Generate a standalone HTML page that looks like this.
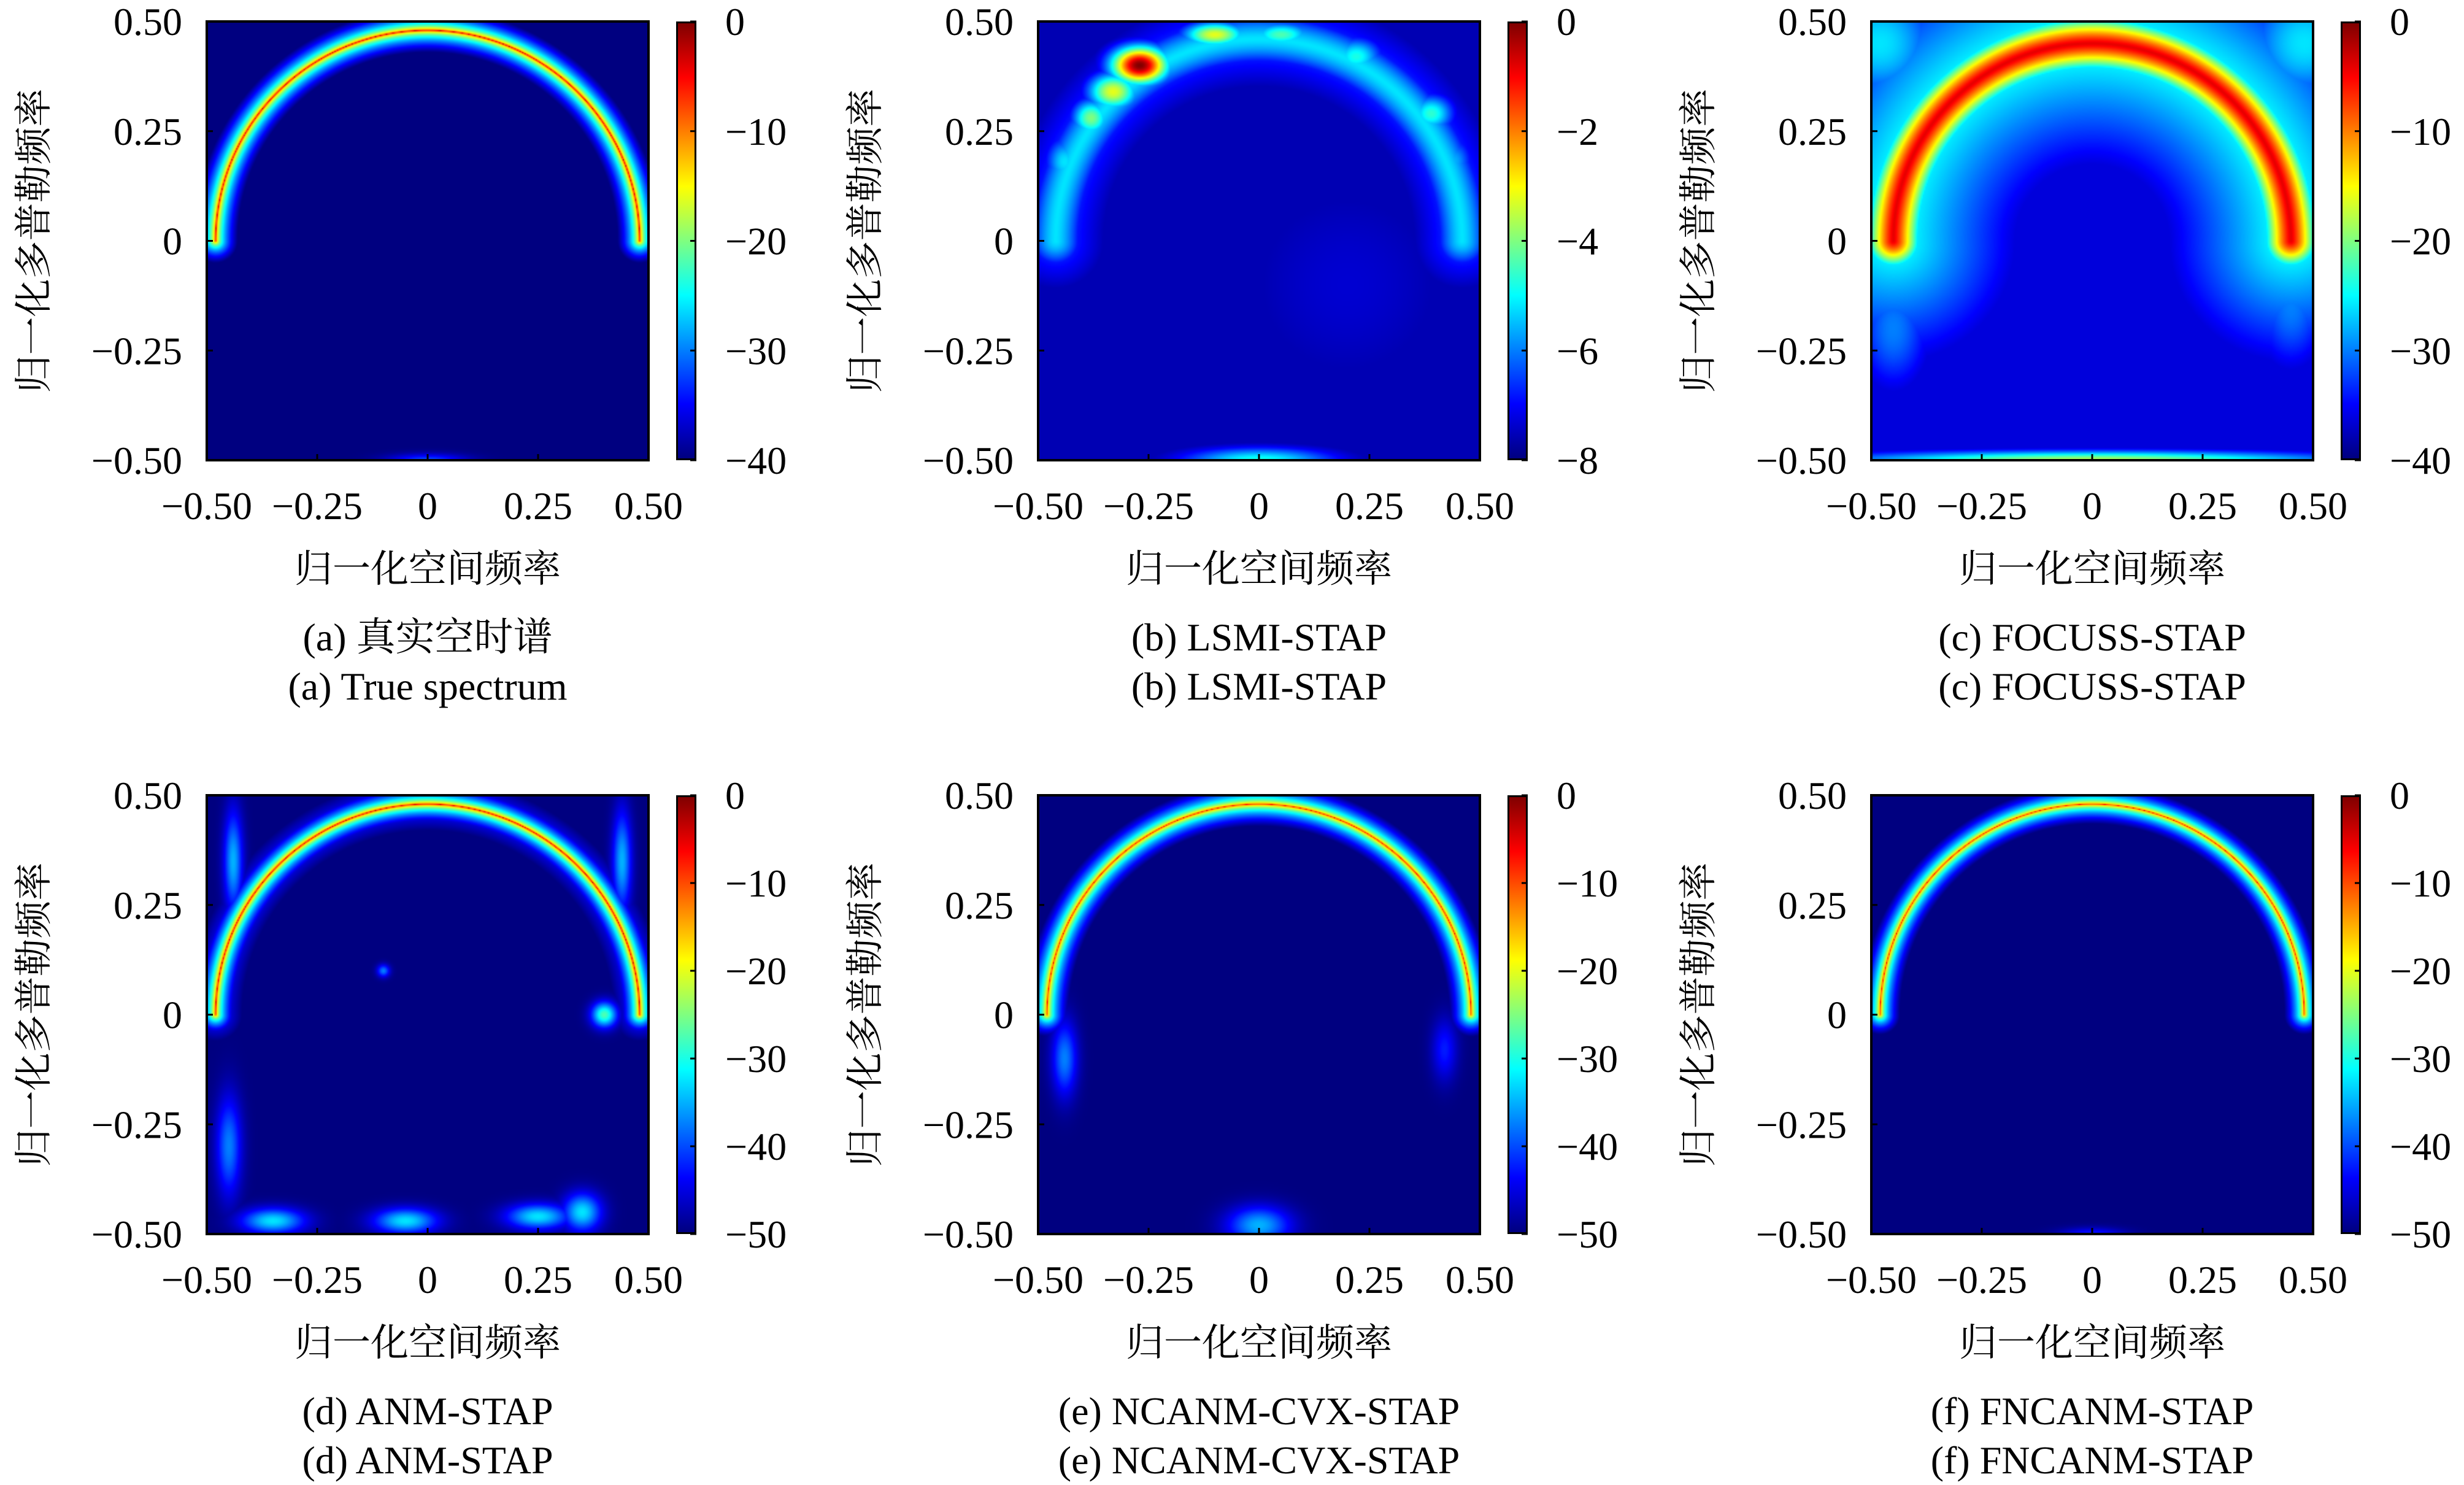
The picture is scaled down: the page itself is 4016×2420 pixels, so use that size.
<!DOCTYPE html>
<html><head><meta charset="utf-8">
<style>
html,body{margin:0;padding:0;background:#fff;}
#root{position:relative;width:4016px;height:2420px;overflow:hidden;background:#fff;}
canvas{position:absolute;}
svg{position:absolute;left:0;top:0;}
text{font-family:"Liberation Serif","Noto Serif CJK SC",serif;fill:#000;}
.cjk{font-family:"Liberation Serif","Noto Serif CJK SC","Noto Sans CJK SC",serif;}
</style></head>
<body>
<div id="root">
<svg id="ov" width="4016" height="2420"></svg>
</div>
<script>
// ---- data ----
const panelIds = ['a','b','c','d','e','f'];
const captionsCn = ['(a) 真实空时谱','(b) LSMI-STAP','(c) FOCUSS-STAP','(d) ANM-STAP','(e) NCANM-CVX-STAP','(f) FNCANM-STAP'];
const captionsEn = ['(a) True spectrum','(b) LSMI-STAP','(c) FOCUSS-STAP','(d) ANM-STAP','(e) NCANM-CVX-STAP','(f) FNCANM-STAP'];
const axisTicks = [-0.5,-0.25,0,0.25,0.5];
const axisTickLabels = ['−0.50','−0.25','0','0.25','0.50'];
const cbarTicks = [
  ['0','−10','−20','−30','−40'],
  ['0','−2','−4','−6','−8'],
  ['0','−10','−20','−30','−40'],
  ['0','−10','−20','−30','−40','−50'],
  ['0','−10','−20','−30','−40','−50'],
  ['0','−10','−20','−30','−40','−50']];
// ring model: radius, width, shape power, amplitude, background
const ringRadius = [0.48,0.46,0.45,0.48,0.48,0.48];
const ringWidth  = [0.05,0.07,0.08,0.045,0.05,0.045];
const ringPow    = [0.4,1.5,1.3,0.4,0.4,0.4];
const ringAmp    = [1.0,0.35,0.9,1.0,0.95,0.95];
const haloWidth  = [0,0.14,0.35,0.06,0,0];
const haloAmp    = [0,0.22,0.42,0.2,0,0];
const bgLevel    = [0,0.05,0.09,0,0,0];
// blobs per panel: [x, y, sx, sy, amp]
const blobs = [
  [[0,-0.5,0.06,0.01,0.2]],
  [[-0.27,0.40,0.045,0.03,1.0],[-0.33,0.34,0.04,0.03,0.6],[-0.38,0.28,0.03,0.03,0.5],[-0.1,0.47,0.05,0.02,0.6],[0.05,0.47,0.05,0.02,0.45],[0.22,0.42,0.04,0.03,0.4],[0.39,0.29,0.035,0.03,0.42],[0.44,0.18,0.03,0.04,0.3],[-0.44,0.18,0.03,0.04,0.35],[0,-0.5,0.12,0.02,0.4],[0.2,-0.1,0.2,0.2,0.08]],
  [[0,-0.5,0.4,0.015,0.55],[-0.45,-0.2,0.06,0.1,0.25],[0.45,-0.15,0.06,0.1,0.25],[0,-0.2,0.2,0.2,0.04],[-0.48,0.45,0.1,0.1,0.35],[0.48,0.45,0.1,0.1,0.35]],
  [[0.4,0.0,0.02,0.02,0.45],[-0.35,-0.47,0.05,0.02,0.35],[-0.05,-0.47,0.05,0.02,0.35],[0.25,-0.46,0.05,0.02,0.35],[0.35,-0.45,0.03,0.03,0.35],[-0.45,-0.3,0.02,0.08,0.25],[0.44,0.35,0.015,0.08,0.3],[-0.44,0.35,0.015,0.08,0.3],[-0.1,0.1,0.01,0.01,0.25]],
  [[0,-0.48,0.05,0.03,0.3],[-0.44,-0.1,0.02,0.06,0.25],[0.42,-0.08,0.02,0.05,0.15]],
  [[0,-0.5,0.05,0.01,0.15]]
];
// ---- layout ----
const colX=[337,1692,3050], rowY=[35,1296], PW=720, PH=715, cbDx=765, CBW=33;
const root=document.getElementById('root'), ov=document.getElementById('ov');
const NS='http://www.w3.org/2000/svg';
function jet(v){v=Math.max(0,Math.min(1,v));const c=t=>Math.round(255*Math.max(0,Math.min(1,1.5-Math.abs(4*v-t))));return [c(3),c(2),c(1)];}
function field(k,x,y){
  const R=ringRadius[k];let d;
  if(y>=0){d=Math.abs(Math.hypot(x,y)-R);}else{d=Math.hypot(Math.abs(x)-R,y*1.0);}
  let v=bgLevel[k];
  v=Math.max(v,ringAmp[k]*Math.max(0,1-Math.pow(d/ringWidth[k],ringPow[k])));
  if(haloWidth[k]>0)v=Math.max(v,haloAmp[k]*Math.max(0,1-d/haloWidth[k]));
  for(const b of blobs[k]){const e=b[4]*Math.exp(-(((x-b[0])/b[2])**2+((y-b[1])/b[3])**2)/2);v=Math.max(v,e);}
  return v;
}
function mk(tag,attrs,txt){const e=document.createElementNS(NS,tag);for(const a in attrs)e.setAttribute(a,attrs[a]);if(txt!==undefined)e.textContent=txt;ov.appendChild(e);return e;}
const xs=(c,v)=>colX[c]+(v+0.5)*PW, ys=(r,v)=>rowY[r]+(0.5-v)*PH;
panelIds.forEach((id,k)=>{
  const c=k%3,r=Math.floor(k/3),L=colX[c],T=rowY[r];
  const cv=document.createElement('canvas');const N=360;cv.width=N;cv.height=N;
  cv.style.left=L+'px';cv.style.top=T+'px';cv.style.width=PW+'px';cv.style.height=PH+'px';
  
  
  const g=cv.getContext('2d'),im=g.createImageData(N,N);
  for(let j=0;j<N;j++)for(let i=0;i<N;i++){const x=-0.5+(i+0.5)/N,y=0.5-(j+0.5)/N;const col=jet(field(k,x,y));const p=(j*N+i)*4;im.data[p]=col[0];im.data[p+1]=col[1];im.data[p+2]=col[2];im.data[p+3]=255;}
  g.putImageData(im,0,0);root.insertBefore(cv,ov);
  const cb=document.createElement('div');
  cb.style.cssText=`position:absolute;left:${L+cbDx}px;top:${T}px;width:${CBW}px;height:${PH}px;box-sizing:border-box;border:3px solid #000;background:linear-gradient(to bottom,#800000 0%,#ff0000 12.5%,#ffff00 37.5%,#00ffff 62.5%,#0000ff 87.5%,#000080 100%);`;
  
  
  root.insertBefore(cb,ov);
  const fr=mk('rect',{x:L,y:T,width:PW,height:PH,fill:'none',stroke:'#000','stroke-width':4});
  
  
  axisTicks.forEach((t,i)=>{
    mk('line',{x1:xs(c,t),x2:xs(c,t),y1:T+PH,y2:T+PH-10,stroke:'#000','stroke-width':3});
    mk('line',{x1:L,x2:L+10,y1:ys(r,t),y2:ys(r,t),stroke:'#000','stroke-width':3});
    const yl=mk('text',{x:L-40,y:ys(r,t)+22,'text-anchor':'end','font-size':64},axisTickLabels[i]);
    
    
    const xl=mk('text',{x:xs(c,t),y:T+PH+96,'text-anchor':'middle','font-size':64},axisTickLabels[i]);
    
    
  });
  const cl=cbarTicks[k],n=cl.length-1;
  cl.forEach((s,i)=>{
    const yy=T+PH*i/n;
    mk('line',{x1:L+cbDx+CBW-10,x2:L+cbDx+CBW,y1:yy,y2:yy,stroke:'#000','stroke-width':3});
    const t=mk('text',{x:L+cbDx+80,y:yy+22,'font-size':64},s);
    
    
  });
  const xt=mk('text',{x:L+PW/2,y:T+PH+198,'text-anchor':'middle','font-size':62,class:'cjk'},'归一化空间频率');
  
  
  const cx=L-281,cy=T+PH/2;
  const yt=mk('text',{x:cx,y:cy,'text-anchor':'middle','font-size':62,class:'cjk',transform:`rotate(-90 ${cx} ${cy})`,'dominant-baseline':'central'},'归一化多普勒频率');
  
  
  const c1=mk('text',{x:L+PW/2,y:T+PH+310,'text-anchor':'middle','font-size':64,class:'cjk'},captionsCn[k]);
  
  
  const c2=mk('text',{x:L+PW/2,y:T+PH+390,'text-anchor':'middle','font-size':64},captionsEn[k]);
  
  
});
</script>
</body></html>
